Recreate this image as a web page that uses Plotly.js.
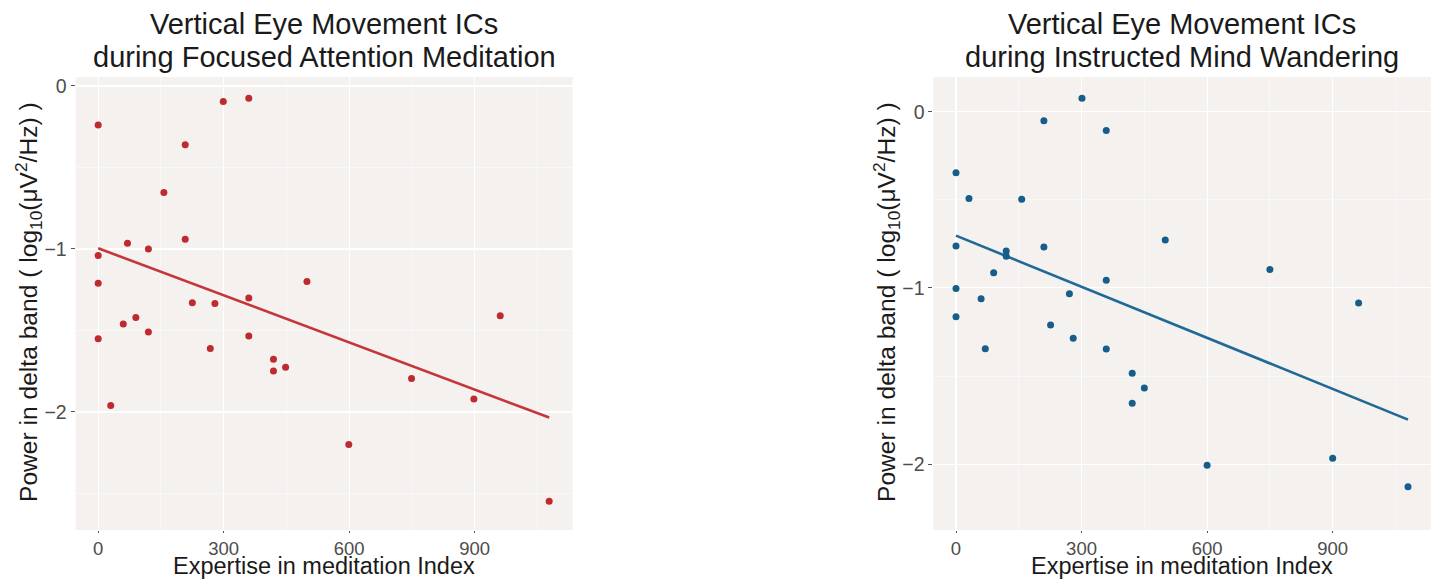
<!DOCTYPE html>
<html>
<head>
<meta charset="utf-8">
<script src="https://cdn.plot.ly/plotly-3.0.1.min.js"></script>
<style>html,body{margin:0;padding:0;background:#fff;}#chart{width:1434px;height:580px;}</style>
</head>
<body>
<div id="chart"></div>
<script>
// Focused Attention Meditation (left panel)
const expertiseFA = [0,0,0,0,30,60,70,90,120,120,157,208,208,225,268,279,299,360,360,360,419,419,448,499,599,749,898,961,1078];
const powerFA = [-0.24,-1.04,-1.21,-1.55,-1.96,-1.46,-0.965,-1.42,-1.00,-1.51,-0.654,-0.36,-0.94,-1.33,-1.61,-1.335,-0.096,-0.076,-1.30,-1.534,-1.677,-1.748,-1.726,-1.20,-2.20,-1.794,-1.92,-1.41,-2.548];
// Instructed Mind Wandering (right panel)
const expertiseMW = [0,0,0,0,31,60,70,90,120,120,157,210,210,226,271,280,301,359,359,359,421,421,450,500,600,750,900,962,1080];
const powerMW = [-0.346,-0.762,-1.003,-1.163,-0.492,-1.061,-1.345,-0.914,-0.79,-0.82,-0.497,-0.051,-0.768,-1.211,-1.033,-1.286,0.076,-0.106,-0.957,-1.347,-1.485,-1.655,-1.568,-0.728,-2.007,-0.895,-1.967,-1.086,-2.128];

const titleFA = ["Vertical Eye Movement ICs", "during Focused Attention Meditation"];
const titleMW = ["Vertical Eye Movement ICs", "during Instructed Mind Wandering"];
const xTitle = "Expertise in meditation Index";
const yTitle = "Power in delta band ( log<sub>10</sub>(μV<sup>2</sup>/Hz) )";
const xTicks = [0, 300, 600, 900];
const yTicks = [0, -1, -2];

function linfit(x, y) {
  const n = x.length;
  const mx = x.reduce((a,b)=>a+b,0)/n, my = y.reduce((a,b)=>a+b,0)/n;
  let sxy = 0, sxx = 0;
  for (let i=0;i<n;i++){ sxy += (x[i]-mx)*(y[i]-my); sxx += (x[i]-mx)*(x[i]-mx); }
  const b = sxy/sxx, a = my - b*mx;
  const x0 = Math.min(...x), x1 = Math.max(...x);
  return {x:[x0,x1], y:[a+b*x0, a+b*x1]};
}

const redPt = '#BF2A2F', redLn = '#C5363A';
const bluePt = '#175D89', blueLn = '#1E6996';
const fitFA = linfit(expertiseFA, powerFA);
const fitMW = linfit(expertiseMW, powerMW);

const traces = [
  {x: fitFA.x, y: fitFA.y, mode:'lines', line:{color:redLn, width:2.6}, xaxis:'x', yaxis:'y', hoverinfo:'skip'},
  {x: expertiseFA, y: powerFA, mode:'markers', marker:{color:redPt, size:7}, xaxis:'x', yaxis:'y'},
  {x: fitMW.x, y: fitMW.y, mode:'lines', line:{color:blueLn, width:2.6}, xaxis:'x2', yaxis:'y2', hoverinfo:'skip'},
  {x: expertiseMW, y: powerMW, mode:'markers', marker:{color:bluePt, size:7}, xaxis:'x2', yaxis:'y2'}
];

const W = 1434, H = 580;
const FONT = 'Liberation Sans, Arial, Helvetica, sans-serif';
const bg = '#F4F1EE';
function xa(domain, anchor) {
  return {domain: domain, anchor: anchor, range:[-54, 1134], tickvals: xTicks, ticktext: xTicks.map(String),
    showgrid:true, gridcolor:'#FFFFFF', gridwidth:1.1, zeroline:false, showline:false,
    ticks:'outside', ticklen:2, tickwidth:1, tickcolor:'#555555',
    tickfont:{family:FONT, size:18.5, color:'#4D4D4D'},
    minor:{tickvals:[150,450,750,1050], showgrid:true, gridcolor:'#FFFFFF', gridwidth:0.5, ticks:''},
    fixedrange:true};
}
function ya(domain, anchor, range) {
  return {domain: domain, anchor: anchor, range: range, tickvals: yTicks, ticktext: yTicks.map(v=> v<0 ? '\u2212'+Math.abs(v) : String(v)),
    showgrid:true, gridcolor:'#FFFFFF', gridwidth:1.1, zeroline:false, showline:false,
    ticks:'outside', ticklen:4, tickwidth:1, tickcolor:'#555555',
    tickfont:{family:FONT, size:19.5, color:'#4D4D4D'},
    minor:{tickvals:[0.5,-0.5,-1.5,-2.5], showgrid:true, gridcolor:'#FFFFFF', gridwidth:0.5, ticks:''},
    fixedrange:true};
}
const yDom = [1-530/H, 1-77/H];
const dom1 = [75.6/W, 572.6/W], dom2 = [933.4/W, 1430.6/W];

function ann(text, x, y, size, angle) {
  return {text: text, xref:'paper', yref:'paper', x: x/W, y: 1-y/H, xanchor:'center', yanchor:'middle',
    showarrow:false, textangle: angle||0, font:{family:FONT, size:size, color:'#1A1A1A'}};
}
const c1 = (dom1[0]+dom1[1])/2*W, c2 = (dom2[0]+dom2[1])/2*W;
const annotations = [
  ann(titleFA[0], c1, 24, 29), ann(titleFA[1], c1, 57, 29),
  ann(titleMW[0], c2, 24, 29), ann(titleMW[1], c2, 57, 29),
  ann(xTitle, c1, 565.5, 23.5), ann(xTitle, c2, 565.5, 23.5),
  ann(yTitle, 28, 302, 24.6, -90), ann(yTitle, 886, 302, 24.6, -90)
];

const layout = {
  width: W, height: H, margin:{l:0,r:0,t:0,b:0},
  paper_bgcolor:'#FFFFFF', plot_bgcolor: bg, showlegend:false,
  xaxis: xa(dom1, 'y'), yaxis: ya(yDom, 'x', [-2.724, 0.055]),
  xaxis2: xa(dom2, 'y2'), yaxis2: ya(yDom, 'x2', [-2.374, 0.197]),
  annotations: annotations
};
Plotly.newPlot('chart', traces, layout, {displayModeBar:false, staticPlot:true});
</script>
</body>
</html>
